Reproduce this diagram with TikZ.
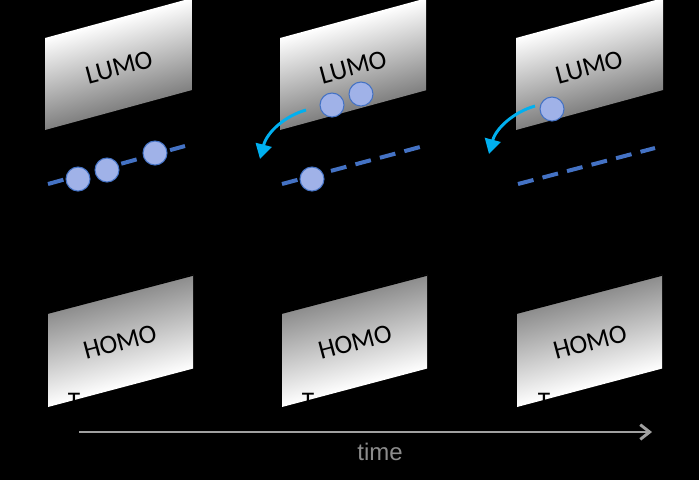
\documentclass[tikz,border=0pt]{standalone}
\usepackage{fontspec}
\setmainfont{Carlito}
\newfontfamily\timefont{Liberation Sans}
\usetikzlibrary{arrows.meta}
\definecolor{levelblue}{RGB}{68,114,196}
\definecolor{dotfill}{RGB}{160,178,232}
\definecolor{hopcyan}{RGB}{0,176,240}
\definecolor{axisgray}{RGB}{160,160,160}
\begin{document}
\begin{tikzpicture}[
    x=0.75pt, y=-0.75pt,
    lumo/.style={top color=white, middle color=black!10, bottom color=black!50},
    homo/.style={top color=black!45, bottom color=white},
    orbital/.style={font=\fontsize{20}{22}\selectfont, rotate=15},
    tlabel/.style={font=\fontsize{19}{21}\selectfont, text=black, anchor=base},
    level/.style={levelblue, line width=3pt, dash pattern=on 12pt off 7pt},
    electron/.style={circle, draw=levelblue, line width=0.8pt, fill=dotfill, minimum size=18pt, inner sep=0pt},
    hop/.style={-{Triangle[length=11pt,width=12pt]}, hopcyan, line width=2.2pt},
    timearrow/.style={-{Straight Barb[length=7pt,width=11pt]}, axisgray, line width=2.2pt}
]
% background
\fill[black] (0,0) rectangle (699,480);
\useasboundingbox (0,0) rectangle (699,480);

% LUMO panels
\shade[lumo, transform canvas={shift={(45,38)}, yslant=0.272}] (0,0) rectangle (147,92);
\shade[lumo, transform canvas={shift={(280,38)}, yslant=0.272}] (0,0) rectangle (146,92);
\shade[lumo, transform canvas={shift={(516,38)}, yslant=0.272}] (0,0) rectangle (147,92);
\node[orbital] (lumo1) at (119,67) {LUMO};
\node[orbital] (lumo2) at (353,67) {LUMO};
\node[orbital] (lumo3) at (589,67) {LUMO};

% HOMO panels
\shade[homo, transform canvas={shift={(48,313)}, yslant=0.265}] (0,0) rectangle (145,94);
\shade[homo, transform canvas={shift={(282,313)}, yslant=0.265}] (0,0) rectangle (145,94);
\shade[homo, transform canvas={shift={(517,313)}, yslant=0.265}] (0,0) rectangle (145,94);
\draw[black, line width=1.2pt] (48,313) -- (193,275);
\draw[black, line width=1.2pt] (282,313) -- (427,275);
\draw[black, line width=1.2pt] (517,313) -- (662,275);
\node[orbital] (homo1) at (120,342) {HOMO};
\node[orbital] (homo2) at (355,342) {HOMO};
\node[orbital] (homo3) at (590,342) {HOMO};
\node[tlabel] (t1) at (74,409) {T};
\node[tlabel] (t2) at (308,409) {T};
\node[tlabel] (t3) at (544,409) {T};

% trap levels
\draw[level] (48,184) -- (185,146);
\draw[level] (282,184) -- (420,147);
\draw[level] (518,184) -- (655,148);

% hops
\coordinate (hopA) at (306,110);
\coordinate (hopB) at (260,159);
\coordinate (hopC) at (535,106);
\coordinate (hopD) at (489,154);
\draw[hop] (hopA) .. controls (285,116) and (267,132) .. (hopB);
\draw[hop] (hopC) .. controls (514,112) and (496,128) .. (hopD);

% electrons
\node[electron] (e1) at (78,179) {};
\node[electron] (e2) at (107,170) {};
\node[electron] (e3) at (155,153) {};
\node[electron] (e4) at (332,105) {};
\node[electron] (e5) at (361,94) {};
\node[electron] (e6) at (312,179) {};
\node[electron] (e7) at (552,109) {};

% time axis
\coordinate (tstart) at (79,432);
\coordinate (tend) at (652,432);
\draw[timearrow] (tstart) -- (tend);
\node[font=\timefont\fontsize{18}{20}\selectfont, text=black!45] (time) at (380,452) {time};
\end{tikzpicture}
\end{document}
